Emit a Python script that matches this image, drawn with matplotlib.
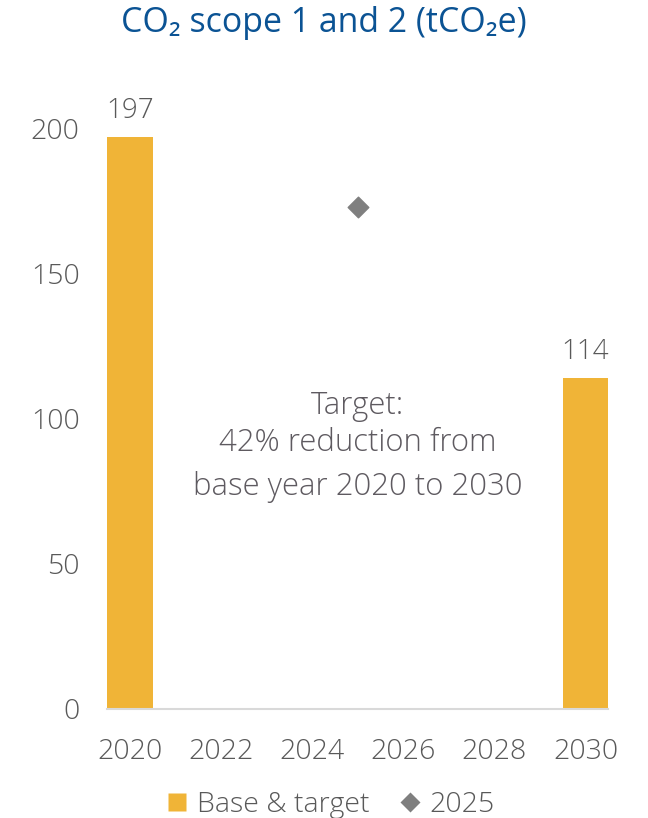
import matplotlib
matplotlib.use("Agg")
import matplotlib.pyplot as plt
from matplotlib.lines import Line2D

# data
bar_years = [2020, 2030]
bar_values = [197, 114]
point_years = [2025]
point_values = [173]
x_ticks = [2020, 2022, 2024, 2026, 2028, 2030]
y_ticks = [0, 50, 100, 150, 200]

BAR_COLOR = "#F0B437"
DIAMOND_COLOR = "#7F7F7F"
TEXT_GRAY = "#595959"
NOTE_GRAY = "#5E5A60"
TITLE_BLUE = "#0B5394"
FONT = ["Open Sans", "DejaVu Sans"]

plt.rcParams["font.family"] = FONT
plt.rcParams["font.weight"] = "light"

fig = plt.figure(figsize=(6.48, 8.18), dpi=100)
ax = fig.add_axes([0.1656, 0.1333, 0.7731, 0.781])

ax.bar(bar_years, bar_values, width=1.0, color=BAR_COLOR, zorder=2)
ax.scatter(point_years, point_values, marker="D", s=110, color=DIAMOND_COLOR, zorder=3)

for x, v in zip(bar_years, bar_values):
    ax.text(x, v + 4, str(v), ha="center", va="bottom", fontsize=20, color=TEXT_GRAY)

ax.set_xlim(2019.5, 2030.5)
ax.set_ylim(0, 220)
ax.set_xticks(x_ticks)
ax.set_yticks(y_ticks)
ax.tick_params(axis="both", length=0, labelsize=20.5, labelcolor=TEXT_GRAY)
ax.tick_params(axis="x", pad=21)
ax.tick_params(axis="y", pad=20)

for s in ["top", "right", "left"]:
    ax.spines[s].set_visible(False)
ax.spines["bottom"].set_color("#D9D9D9")
ax.spines["bottom"].set_linewidth(1.5)

# annotation
ax.text(2025, 104.5, "Target:", ha="center", va="center", fontsize=22.4, color=NOTE_GRAY)
ax.text(2025, 91.5, "42% reduction from", ha="center", va="center", fontsize=22.4, color=NOTE_GRAY)
ax.text(2025, 76.3, "base year 2020 to 2030", ha="center", va="center", fontsize=22.4, color=NOTE_GRAY)

fig.text(0.5, 0.972, "CO₂ scope 1 and 2 (tCO₂e)", ha="center", va="center",
         fontsize=24.4, fontweight="normal", color=TITLE_BLUE)

handles = [
    Line2D([0], [0], marker="s", color="none", markerfacecolor=BAR_COLOR,
           markeredgecolor="none", markersize=13),
    Line2D([0], [0], marker="D", color="none", markerfacecolor=DIAMOND_COLOR,
           markeredgecolor="none", markersize=10),
]
leg = fig.legend(handles, ["Base & target", "2025"], loc="center",
                 bbox_to_anchor=(0.51, 0.016), ncol=2, frameon=False,
                 fontsize=20.5, handlelength=0.8, handletextpad=0.3, columnspacing=1.0)
for t in leg.get_texts():
    t.set_color(TEXT_GRAY)

fig.savefig("out.png", dpi=100)
